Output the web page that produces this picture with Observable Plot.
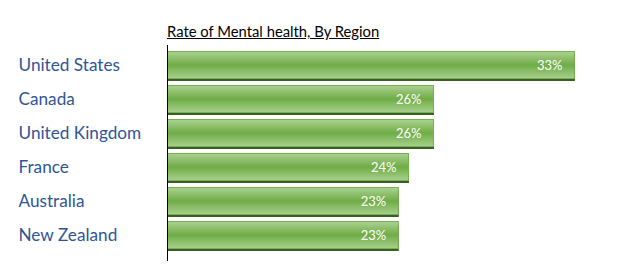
<!DOCTYPE html>
<html>
<head>
<meta charset="utf-8">
<script src="https://cdn.jsdelivr.net/npm/d3@7"></script>
<script src="https://cdn.jsdelivr.net/npm/@observablehq/plot@0.6"></script>
<style>
  body { margin: 0; background: #fff; }
  #chart { position: relative; width: 620px; height: 276px; }
  #title { position: absolute; left: 167px; top: 22px; font-family: Lato, sans-serif; font-size: 14.8px; color: #000; text-decoration: underline; white-space: nowrap; }
  #chart svg g[aria-label="y-axis tick label"] text { font-family: Lato, sans-serif; font-size: 17.2px; fill: #2f5597; }
</style>
</head>
<body>
<div id="chart"><div id="title">Rate of Mental health, By Region</div></div>
<script>
const regions = ["United States", "Canada", "United Kingdom", "France", "Australia", "New Zealand"];
const rates = [0.33, 0.254, 0.254, 0.2405, 0.235, 0.235];
const rateLabels = ["33%", "26%", "26%", "24%", "23%", "23%"];

const data = regions.map((r, i) => ({region: r, rate: rates[i], label: rateLabels[i]}));

const plot = Plot.plot({
  width: 620,
  height: 276,
  marginLeft: 167,
  marginRight: 8,
  marginTop: 45,
  marginBottom: 18,
  style: {fontFamily: "Lato, sans-serif", background: "transparent"},
  x: {domain: [0.11, 0.35], axis: null},
  y: {domain: regions, paddingInner: 0.11, paddingOuter: 0.112, label: null},
  marks: [
    Plot.barX(data, {x1: 0.11, x2: "rate", y: "region", fill: "#3a5e25", insetLeft: 1, insetTop: 4}),
    Plot.barX(data, {x1: 0.11, x2: "rate", y: "region", fill: "url(#barGrad)", stroke: "#76b04f", strokeWidth: 1, insetBottom: 2.5, insetTop: 0.5, insetRight: 0.5, insetLeft: 0.5}),
    Plot.text(data, {x: "rate", y: "region", text: "label", fill: "white", textAnchor: "end", dx: -13, dy: -1, fontSize: 13, fontFamily: "Lato, sans-serif"}),
    Plot.ruleX([0.11], {stroke: "#000", strokeWidth: 1, insetBottom: -3}),
    Plot.axisY({tickSize: 0, textAnchor: "start", dx: -140, dy: -1, fill: "#2f5597", color: "#2f5597"})
  ]
});

const defs = d3.select(plot).insert("defs", ":first-child");
const g = defs.append("linearGradient").attr("id", "barGrad").attr("x1", 0).attr("y1", 0).attr("x2", 0).attr("y2", 1);
g.append("stop").attr("offset", "0%").attr("stop-color", "#acd292");
g.append("stop").attr("offset", "50%").attr("stop-color", "#6fac46");
g.append("stop").attr("offset", "100%").attr("stop-color", "#a9d08e");

d3.select(plot).style("position", "absolute").style("left", "0px").style("top", "0px");
document.getElementById("chart").appendChild(plot);
</script>
</body>
</html>
